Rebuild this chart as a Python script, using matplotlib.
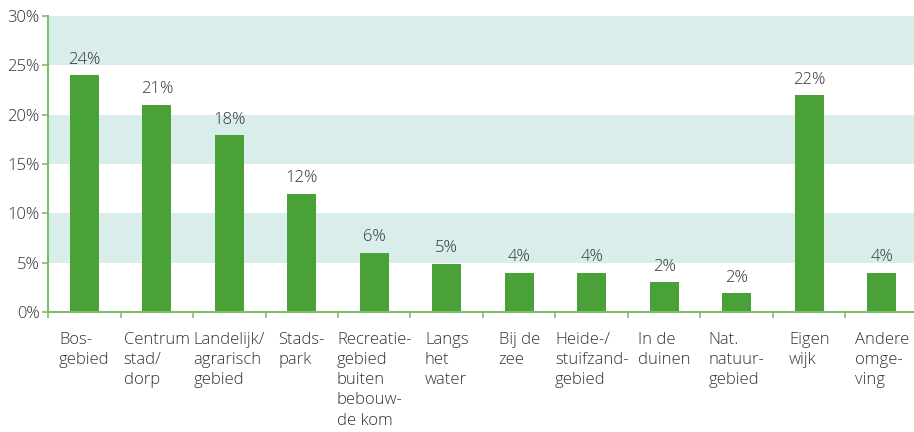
import matplotlib
matplotlib.use("Agg")
import matplotlib.pyplot as plt
import numpy as np

categories = ["Bos-\ngebied", "Centrum\nstad/\ndorp", "Landelijk/\nagrarisch\ngebied", "Stads-\npark",
              "Recreatie-\ngebied\nbuiten\nbebouw-\nde kom", "Langs\nhet\nwater", "Bij de\nzee",
              "Heide-/\nstuifzand-\ngebied", "In de\nduinen", "Nat.\nnatuur-\ngebied", "Eigen\nwijk",
              "Andere\nomge-\nving"]
values = [24, 21, 17.9, 12, 6, 4.9, 4, 4, 3, 1.9, 22, 4]
value_labels = ["24%", "21%", "18%", "12%", "6%", "5%", "4%", "4%", "2%", "2%", "22%", "4%"]
yticks = [0, 5, 10, 15, 20, 25, 30]

plt.rcParams['font.family'] = ['Open Sans', 'DejaVu Sans']
W, H = 914, 432
fig = plt.figure(figsize=(W/100, H/100), dpi=100)
ax = fig.add_axes([48/W, (H-312)/H, 870/W, 296/H])

bar_color = "#4aa137"
band_color = "#d9eeeb"
axis_color = "#7cc067"
text_color = "#333333"
fs = 12

for lo in (5, 15, 25):
    ax.axhspan(lo, lo + 5, color=band_color, zorder=0, lw=0)

x = np.arange(len(categories))
ax.bar(x, values, width=0.4, color=bar_color, zorder=2)
for xi, v, lab in zip(x, values, value_labels):
    ax.text(xi, v + 0.75, lab, ha='center', va='bottom', fontsize=fs, color=text_color,
            fontweight='light')

ax.set_xlim(-0.5, len(categories) - 0.5)
ax.set_ylim(0, 30)
ax.set_yticks(yticks)
ax.set_yticklabels([f"{t}%" for t in yticks], fontsize=fs, color=text_color, fontweight='light')
ax.set_xticks(np.arange(len(categories) + 1) - 0.5)
ax.set_xticklabels([])
ax.tick_params(axis='x', length=4, color=axis_color, width=1.2)
ax.tick_params(axis='y', length=4, color=axis_color, width=1.2, pad=2)

for xi, c in zip(x, categories):
    ax.text(xi, -2.0, c, ha='center', va='top', multialignment='left', fontsize=fs,
            color=text_color, linespacing=1.35, fontweight='light', transform=ax.transData,
            clip_on=False)

for s in ('top', 'right'):
    ax.spines[s].set_visible(False)
for s in ('left', 'bottom'):
    ax.spines[s].set_color(axis_color)
    ax.spines[s].set_linewidth(1.5)

fig.savefig("out.png", dpi=100)
